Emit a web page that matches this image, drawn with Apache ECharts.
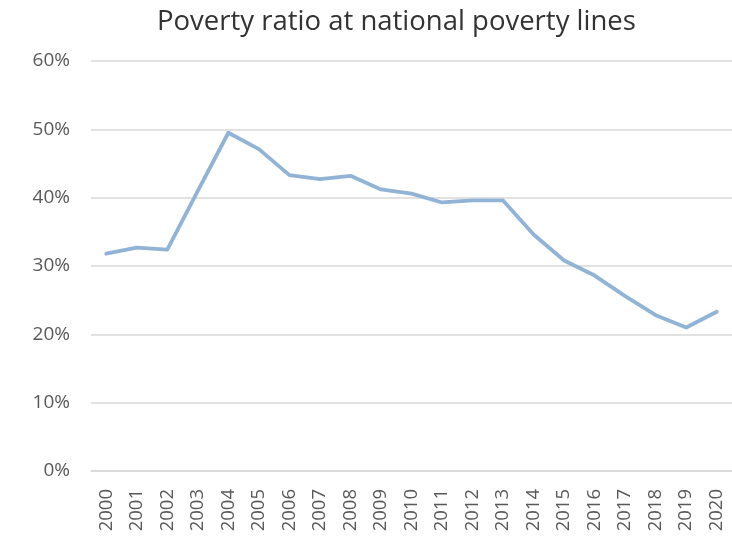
<!DOCTYPE html>
<html>
<head>
<meta charset="utf-8">
<script src="https://cdn.jsdelivr.net/npm/echarts@6/dist/echarts.min.js"></script>
<style>
  html, body { margin: 0; padding: 0; background: #fff; }
  #chart { width: 732px; height: 537px; }
</style>
</head>
<body>
<div id="chart"></div>
<script>
// Poverty headcount ratio at national poverty lines (% of population)
const years = ['2000','2001','2002','2003','2004','2005','2006','2007','2008','2009',
  '2010','2011','2012','2013','2014','2015','2016','2017','2018','2019','2020'];
const povertyRatio = [31.8, 32.7, 32.4, 41.0, 49.5, 47.1, 43.3, 42.7, 43.2, 41.2,
  40.6, 39.3, 39.6, 39.6, 34.6, 30.8, 28.6, 25.6, 22.8, 21.0, 23.3];
const yTicks = { min: 0, max: 60, step: 10 };

const FONT = '"Open Sans", sans-serif';
const chart = echarts.init(document.getElementById('chart'));
chart.setOption({
  animation: false,
  title: {
    text: 'Poverty ratio at national poverty lines',
    left: 152,
    top: 3,
    textStyle: { fontFamily: FONT, fontSize: 27.5, fontWeight: 'normal', color: '#333333' }
  },
  grid: { left: 91, right: -2, top: 61, bottom: 66 },
  xAxis: {
    type: 'category',
    data: years,
    boundaryGap: true,
    axisLine: { lineStyle: { color: '#d9d9d9', width: 1.5 } },
    axisTick: { show: false },
    axisLabel: { rotate: 90, margin: 18, fontFamily: FONT, fontSize: 18.5, color: '#595959', interval: 0 }
  },
  yAxis: {
    type: 'value',
    min: yTicks.min,
    max: yTicks.max,
    interval: yTicks.step,
    axisLine: { show: false },
    axisTick: { show: false },
    splitLine: { lineStyle: { color: '#d9d9d9', width: 1.5 } },
    axisLabel: { margin: 21, fontFamily: FONT, fontSize: 19, color: '#595959', formatter: v => v + '%' }
  },
  series: [{
    type: 'line',
    data: povertyRatio,
    symbol: 'none',
    lineStyle: { color: '#90b3d6', width: 3.8, cap: 'round', join: 'round' }
  }]
});
</script>
</body>
</html>
